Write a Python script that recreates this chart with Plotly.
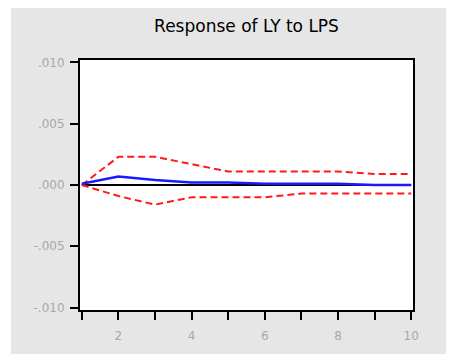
import plotly.graph_objects as go

periods = [1, 2, 3, 4, 5, 6, 7, 8, 9, 10]
response = [0.0001, 0.0007, 0.0004, 0.0002, 0.0002, 0.0001, 0.0001, 0.0001, 0.0000, 0.0000]
upper = [0.0000, 0.0023, 0.0023, 0.0017, 0.0011, 0.0011, 0.0011, 0.0011, 0.0009, 0.0009]
lower = [0.0000, -0.0009, -0.0016, -0.0010, -0.0010, -0.0010, -0.0007, -0.0007, -0.0007, -0.0007]
ytick_vals = [-0.010, -0.005, 0.0, 0.005, 0.010]
ytick_text = ["-.010", "-.005", ".000", ".005", ".010"]
xtick_vals = [1, 2, 3, 4, 5, 6, 7, 8, 9, 10]
xtick_text = ["", "2", "", "4", "", "6", "", "8", "", "10"]

fig = go.Figure()
fig.add_trace(go.Scatter(x=[periods[0], periods[-1]], y=[0, 0], mode="lines",
                         line=dict(color="black", width=2), hoverinfo="skip"))
fig.add_trace(go.Scatter(x=periods, y=upper, mode="lines",
                         line=dict(color="#ff1a1a", width=2, dash="7px,4px")))
fig.add_trace(go.Scatter(x=periods, y=lower, mode="lines",
                         line=dict(color="#ff1a1a", width=2, dash="7px,4px")))
fig.add_trace(go.Scatter(x=periods, y=response, mode="lines",
                         line=dict(color="#1a1aff", width=2.5)))

W, H = 446, 346
L, R, T, B = 72, 41, 52, 44
PW, PH = W - L - R, H - T - B
tickfont = dict(family="DejaVu Sans", size=12, color="#a8a8a8")
fig.update_layout(
    width=W, height=H,
    margin=dict(l=L, r=R, t=T, b=B),
    paper_bgcolor="#e6e6e6",
    plot_bgcolor="white",
    showlegend=False,
    title=dict(text="Response of LY to LPS", x=(L + PW / 2) / W, xanchor="center", y=1 - 18 / H,
               yanchor="middle", font=dict(family="DejaVu Sans", size=17, color="black")),
    shapes=[dict(type="rect", xref="paper", yref="paper", layer="below",
                 x0=-L / PW, x1=(3 - L) / PW,
                 y0=-B / PH, y1=(H - B) / PH,
                 fillcolor="white", line=dict(width=0))],
    xaxis=dict(range=[0.95, 10.05], tickvals=xtick_vals, ticktext=xtick_text,
               ticks="outside", ticklen=8, tickwidth=2, tickcolor="black",
               ticklabelstandoff=6,
               showline=True, linecolor="black", linewidth=2, mirror=True,
               showgrid=False, zeroline=False, tickfont=tickfont),
    yaxis=dict(range=[-0.0102, 0.0102], tickvals=ytick_vals, ticktext=ytick_text,
               ticks="outside", ticklen=8, tickwidth=2, tickcolor="black",
               ticklabelstandoff=3,
               showline=True, linecolor="black", linewidth=2, mirror=True,
               showgrid=False, zeroline=False, tickfont=tickfont),
)
fig.write_html("out.html")
